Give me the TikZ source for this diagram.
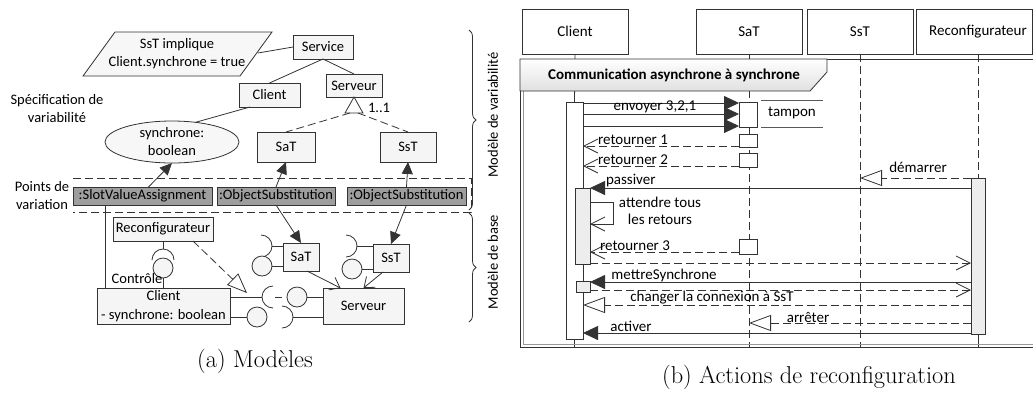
\documentclass[tikz,border=0pt]{standalone}
\usepackage{fontspec}
\newfontfamily\calibri{Carlito}
\usetikzlibrary{arrows.meta,decorations.pathreplacing,shapes.geometric,calc}
\begin{document}
\begin{tikzpicture}[x=1pt,y=-1pt,
  every node/.style={inner sep=0pt, outer sep=0pt},
  lf/.style={font=\calibri\fontsize{14.5}{18}\selectfont},
  rf/.style={font=\calibri\fontsize{15}{17}\selectfont},
  ln/.style={line width=0.8pt, draw=black!80},
  dsh/.style={ln, dash pattern=on 8pt off 4pt},
  ubox/.style={lf, ln, fill=black!4, rectangle},
  gbox/.style={lf, ln, fill=black!38, rectangle},
  ball/.style={circle, ln, fill=black!4, minimum size=20pt},
  fa/.style={ln, -{Triangle[length=12pt,width=11pt]}},
  ob/.style={ln, -{Straight Barb[length=9pt,width=14pt]}},
  hbox/.style={rf, ln, fill=white, rectangle, minimum height=45pt},
  act/.style={ln, fill=white, rectangle},
  gact/.style={ln, fill=black!7, rectangle},
  sf/.style={ln, -{Triangle[length=15pt,width=14pt]}},
  sd/.style={dsh, -{Straight Barb[length=14pt,width=14pt]}},
  sb/.style={ln, -{Straight Barb[length=14pt,width=14pt]}},
  so/.style={dsh, -{Triangle[open,length=22pt,width=16pt]}},
]
\useasboundingbox (0,0) rectangle (1033,392);

% ================= (a) upper part =================
\path[ln, fill=black!3] (115,32) -- (272,32) -- (240,76) -- (83,76) -- cycle;
\node[lf, align=center] (cons) at (177,54) {SsT implique\\Client.synchrone = true};
\coordinate (consR) at (258,53);

\node[ubox, minimum width=60pt, minimum height=24pt] (service) at (323,47) {Service};
\node[ubox, minimum width=61pt, minimum height=24pt] (clientT) at (269.5,95) {Client};
\node[ubox, minimum width=56pt, minimum height=23pt] (serveurT) at (354,85.5) {Serveur};
\node[ubox, minimum width=58pt, minimum height=30pt] (satT) at (286,147) {SaT};
\node[ubox, minimum width=56pt, minimum height=30pt] (sstT) at (408,147) {SsT};
\node[ellipse, ln, fill=black!3, minimum width=134pt, minimum height=42pt, lf, align=center] (synch) at (172,142) {synchrone:\\boolean};

\draw[ln] (consR) -- (service.west);
\draw[ln] (service.south) -- (clientT.north);
\draw[ln] (service.south) -- (serveurT.north);
\draw[ln] (synch.40) -- ($(clientT.south west)+(11,0)$);

\draw[ln, fill=white] (serveurT.south) -- ++(-9,16) -- ++(18,0) -- cycle;
\coordinate (genBL) at (350,113);
\coordinate (genBR) at (358,113);
\draw[dsh] (genBL) -- (satT.north);
\draw[dsh] (genBR) -- (sstT.north);
\node[lf, anchor=west] (mult) at (368,108) {1..1};

\node[lf, align=center] (spec) at (57,109) {Spécification de\\variabilité};
\node[lf, align=center] (pts) at (42,196) {Points de\\variation};

% points de variation
\draw[dsh] (73,178) -- (471,178) -- (471,212) -- (73,212);
\node[gbox, minimum width=139pt, minimum height=18pt] (sva) at (142.5,196) {:SlotValueAssignment};
\node[gbox, minimum width=118pt, minimum height=18pt] (os1) at (276,196) {:ObjectSubstitution};
\node[gbox, minimum width=119pt, minimum height=18pt] (os2) at (406.5,196) {:ObjectSubstitution};

% ================= (a) lower part =================
\node[ubox, minimum width=100pt, minimum height=24pt] (reconf) at (163,229) {Reconfigurateur};
\node[ubox, minimum width=133pt, minimum height=36pt, align=center, font=\calibri\fontsize{14.5}{19}\selectfont] (clientB) at (163.5,306) {Client\\- synchrone: boolean};
\node[ubox, minimum width=36pt, minimum height=28pt] (satB) at (301,257) {SaT};
\node[ubox, minimum width=36pt, minimum height=28pt] (sstB) at (391,258) {SsT};
\node[ubox, minimum width=81pt, minimum height=36pt] (serveurB) at (363.5,306) {Serveur};

\draw[fa] ([xshift=6pt]sva.north) -- (synch.south);
\draw[fa] (os1.north) -- (satT.south);
\draw[fa] (os2.north) -- (sstT.south);
\draw[fa] (os1.south) -- (satB.north);
\draw[fa] (os2.south) -- (sstB.north);
\coordinate (svaL) at (105,205);
\draw[ln] (svaL) -- (svaL |- clientB.north);

% Reconfigurateur interface
\coordinate (rsock) at (163,249);
\draw[ln] (reconf.south) -- (rsock);
\draw[ln] (152,260) arc[start angle=180,end angle=0,radius=11pt];
\node[ball] (rb) at (163,268) {};
\draw[ln] (rb.south) -- (rb.south |- clientB.north);
\node[lf] (ctrl) at (137,279) {Contrôle};

\coordinate (realT) at (247,293);
\draw[dsh, -{Triangle[open,length=20pt,width=16pt]}] ([xshift=-20pt]reconf.south east) -- (realT);

% Client -- Serveur
\node[ball] (sb1) at (297,297) {};
\node[ball] (cb2) at (257,317) {};
\draw[ln] (clientB.east |- 0,297) -- (262,297);
\draw[ln] (273,286) arc[start angle=90,end angle=270,radius=11pt];
\draw[ln] (275,297) -- (282,297);
\draw[ln] (sb1.east) -- (serveurB.west |- sb1.east);
\draw[ln] (clientB.east |- cb2.west) -- (cb2.west);
\draw[ln] (282,306) arc[start angle=90,end angle=-90,radius=11pt];
\draw[ln] (293,317) -- (serveurB.west |- 0,317);

% SaT / SsT interfaces
\draw[ln] (261,235) arc[start angle=90,end angle=-90,radius=11pt];
\draw[ln] (272,246) -- (satB.west |- 0,246);
\node[ball] (tb) at (262,266) {};
\draw[ln] (tb.east) -- (satB.west |- tb.east);
\draw[ln] (346,235) arc[start angle=90,end angle=-90,radius=11pt];
\draw[ln] (357,246) -- (sstB.west |- 0,246);
\node[ball] (ub) at (352,269) {};
\draw[ln] (ub.east) -- (sstB.west |- ub.east);

\draw[ob] ([xshift=6pt]satB.south) -- ([xshift=-23pt]serveurB.north);
\draw[ob] ([xshift=-8pt]sstB.south) -- (serveurB.north);

% braces
\draw[ln, decorate, decoration={brace, amplitude=7pt}] (469,30) -- (469,210);
\draw[ln, decorate, decoration={brace, amplitude=7pt}] (469,213) -- (469,322);
\node[lf, rotate=90] (lv) at (493,115) {Modèle de variabilité};
\node[lf, rotate=90] (lb) at (493,262) {Modèle de base};

\node[font=\fontsize{24.4}{29}\selectfont] (capa) at (255,361) {(a) Modèles};

% ================= (b) sequence =================
\node[hbox, minimum width=106pt] (clientH) at (575,31.5) {Client};
\node[hbox, minimum width=106pt] (satH) at (749,31.5) {SaT};
\node[hbox, minimum width=106pt] (sstH) at (860,31.5) {SsT};
\node[hbox, minimum width=116pt] (reconfH) at (974,31.5) {\hspace{8pt}Reconfigurateur};

\coordinate (frTL) at (520,59);
\coordinate (frBL) at (520,347);
\coordinate (rLL) at (978,54);

\node[act, minimum width=17pt, minimum height=237pt] (cA) at (574.5,220.5) {};
\node[act, minimum width=18pt, minimum height=25pt] (sA) at (748,114.5) {};
\node[act, minimum width=18pt, minimum height=13pt] (sR1) at (748,140.5) {};
\node[act, minimum width=18pt, minimum height=14pt] (sR2) at (748,160) {};
\node[act, minimum width=18pt, minimum height=15pt] (sR3) at (748,246.5) {};
\node[gact, minimum width=14pt, minimum height=156pt] (rA) at (978,256) {};

% lifelines
\draw[ln] (clientH.south) -- (cA.north);
\draw[ln] (cA.south) -- (cA.south |- frBL);
\draw[dsh] (satH.south) -- (satH.south |- frBL);
\draw[dsh] (sstH.south) -- (sstH.south |- frBL);
\draw[dsh] (rLL) -- (rA.north);
\draw[ln] (rA.south) -- (rA.south |- frBL);

% frame
\draw[ln] (1033,59) -- (frTL) -- (frBL) -- (1033,347);
\draw[black!40, line width=0.6pt] (523,91) -- (523,344) -- (1033,344);
\path[ln, top color=white, bottom color=black!12] (520,59) -- (827,59) -- (827,72) -- (810,91) -- (520,91) -- cycle;
\node[font=\calibri\bfseries\fontsize{15}{17}\selectfont] (ftitle) at (674,75) {Communication asynchrone à synchrone};

% activations redrawn on top
\node[act, minimum width=17pt, minimum height=237pt] (cAx) at (574.5,220.5) {};
\node[act, minimum width=18pt, minimum height=25pt] (sAx) at (748,114.5) {};
\node[act, minimum width=18pt, minimum height=13pt] (sR1x) at (748,140.5) {};
\node[act, minimum width=18pt, minimum height=14pt] (sR2x) at (748,160) {};
\node[act, minimum width=18pt, minimum height=15pt] (sR3x) at (748,246.5) {};
\node[gact, minimum width=14pt, minimum height=156pt] (rAx) at (978,256) {};
\node[gact, minimum width=15pt, minimum height=76pt] (cA2) at (582.5,226) {};
\node[gact, minimum width=14pt, minimum height=11pt] (cA3) at (583,286.5) {};

% tampon
\coordinate (tpA) at (761,100);
\coordinate (tpB) at (823,100);
\coordinate (tpC) at (761,127);
\coordinate (tpD) at (823,127);
\draw[ln, black!65] (tpA) -- (tpB);
\draw[ln, black!65] (tpC) -- (tpD);
\node[rf] (tampon) at (792,113) {tampon};

% messages
\draw[sf] (cA.east |- 0,103) -- (sA.west |- 0,103);
\draw[sf] (cA.east |- 0,114) -- (sA.west |- 0,114);
\draw[sf] (cA.east |- 0,126) -- (sA.west |- 0,126);
\node[rf] (lenv) at (655,107) {envoyer 3,2,1};

\draw[sd] (sR1.west |- 0,146) -- (cA.east |- 0,146);
\node[rf] (lr1) at (633,140) {retourner 1};
\draw[sd] (sR2.west |- 0,166) -- (cA.east |- 0,166);
\node[rf] (lr2) at (633,160) {retourner 2};

\draw[so] (rA.north west) -- (sstH.south |- rA.north west);
\node[rf] (ldem) at (918,167) {démarrer};

\draw[sf] (rA.west |- 0,188) -- (cA2.east |- 0,188);
\node[rf, anchor=west] (lpas) at (606,181) {passiver};

\coordinate (selfA) at (613,202);
\coordinate (selfB) at (613,224);
\draw[sb] (cA2.east |- selfA) -- (selfA) -- (selfB) -- (cA2.east |- selfB);
\node[rf, align=center] (latt) at (660,211) {attendre tous\\les retours};

\draw[sd] (sR3.west |- 0,252) -- (cA2.east |- 0,252);
\node[rf] (lr3) at (635,246) {retourner 3};

\draw[sd] (cA2.east |- 0,263) -- (rA.west |- 0,263);
\draw[sf] (rA.west |- 0,282) -- (cA3.east |- 0,282);
\node[rf] (lmet) at (664,275) {mettreSynchrone};
\draw[sd] (cA3.east |- 0,290) -- (rA.west |- 0,290);

\draw[so] (rA.west |- 0,305) -- (cA.east |- 0,305);
\node[rf] (lchg) at (712,298) {changer la connexion à SsT};
\draw[so] (rA.west |- 0,323) -- (satH.south |- 0,323);
\node[rf] (larr) at (808,317) {arrêter};
\draw[sf] (rA.west |- 0,333) -- (cA.east |- 0,333);
\node[rf] (lact) at (631,326) {activer};

\node[font=\fontsize{24.4}{29}\selectfont] (capb) at (809,377) {(b) Actions de reconfiguration};
\end{tikzpicture}
\end{document}
